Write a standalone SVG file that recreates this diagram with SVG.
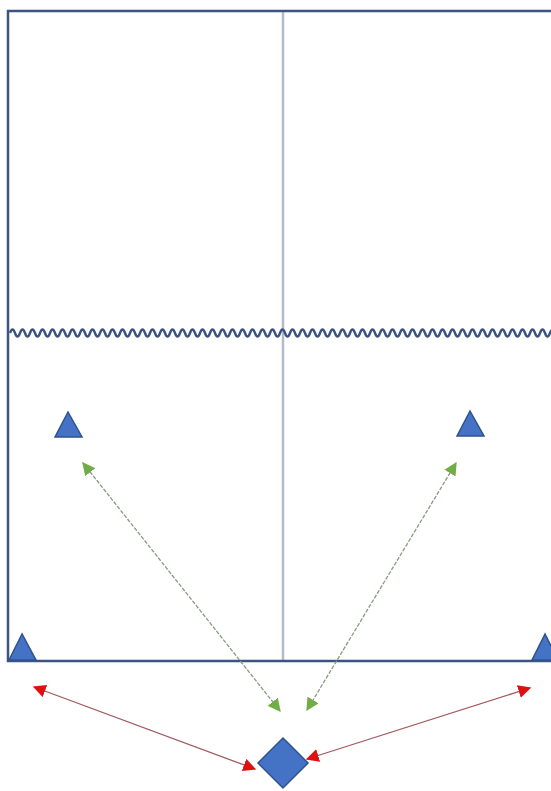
<svg xmlns="http://www.w3.org/2000/svg" width="551" height="791" viewBox="0 0 551 791">
<style>
.frame{stroke:#3b5480;stroke-width:2.5;fill:none}
.mid{stroke:#b3bccd;stroke-width:2.5;fill:none}
.wave{stroke:#3a5282;stroke-width:2.4;fill:none}
.shape{fill:#4472c4;stroke:#2f528f;stroke-width:1.5}
.g{stroke:#8a9a80;stroke-width:1.3;stroke-dasharray:4 1.5;fill:none}
.r{stroke:#a35a5f;stroke-width:1.3;fill:none}
</style>
<defs>
<marker id="ga" viewBox="0 0 10 10" refX="9" refY="5" markerWidth="13" markerHeight="13" markerUnits="userSpaceOnUse" orient="auto-start-reverse"><path d="M0,0 L10,5 L0,10 z" fill="#70ad47"/></marker>
<marker id="ra" viewBox="0 0 10 10" refX="9" refY="5" markerWidth="13" markerHeight="13" markerUnits="userSpaceOnUse" orient="auto-start-reverse"><path d="M0,0 L10,5 L0,10 z" fill="#e01010"/></marker>
</defs>
<rect width="551" height="791" fill="#ffffff"/>
<g id="field">
<line class="mid" x1="283" y1="11" x2="283" y2="661"/>
<path class="frame" d="M551,11 L8,11 L8,661 L551,661"/>
<path id="wave" class="wave" d="M10,333 q2.5,-7 5,0 t5,0 t5,0 t5,0 t5,0 t5,0 t5,0 t5,0 t5,0 t5,0 t5,0 t5,0 t5,0 t5,0 t5,0 t5,0 t5,0 t5,0 t5,0 t5,0 t5,0 t5,0 t5,0 t5,0 t5,0 t5,0 t5,0 t5,0 t5,0 t5,0 t5,0 t5,0 t5,0 t5,0 t5,0 t5,0 t5,0 t5,0 t5,0 t5,0 t5,0 t5,0 t5,0 t5,0 t5,0 t5,0 t5,0 t5,0 t5,0 t5,0 t5,0 t5,0 t5,0 t5,0 t5,0 t5,0 t5,0 t5,0 t5,0 t5,0 t5,0 t5,0 t5,0 t5,0 t5,0 t5,0 t5,0 t5,0 t5,0 t5,0 t5,0 t5,0 t5,0 t5,0 t5,0 t5,0 t5,0 t5,0 t5,0 t5,0 t5,0 t5,0 t5,0 t5,0 t5,0 t5,0 t5,0 t5,0 t5,0 t5,0 t5,0 t5,0 t5,0 t5,0 t5,0 t5,0 t5,0 t5,0 t5,0 t5,0 t5,0 t5,0 t5,0 t5,0 t5,0 t5,0 t5,0 t5,0 t5,0 t5,0 t5,0 t5,0 t5,0 t5,0 t5,0 t5,0 t5,0 t5,0"/>
</g>
<g id="tri-left"><polygon class="shape" points="68,412 55,437 82,437"/></g>
<g id="tri-right"><polygon class="shape" points="470,411 457,436 484,436"/></g>
<g id="tri-bottom-left"><polygon class="shape" points="22,634 9,660 36,660"/></g>
<g id="tri-bottom-right"><polygon class="shape" points="545,634 532,660 558,660"/></g>
<g id="diamond"><polygon class="shape" points="283,738 308,763 283,788 258,763"/></g>
<g id="connectors">
<line class="g" x1="83" y1="463" x2="280" y2="711" marker-start="url(#ga)" marker-end="url(#ga)"/>
<line class="g" x1="456" y1="463" x2="307" y2="710" marker-start="url(#ga)" marker-end="url(#ga)"/>
<line class="r" x1="34" y1="687" x2="255" y2="769" marker-start="url(#ra)" marker-end="url(#ra)"/>
<line class="r" x1="530" y1="688" x2="307" y2="759" marker-start="url(#ra)" marker-end="url(#ra)"/>
</g>
</svg>
